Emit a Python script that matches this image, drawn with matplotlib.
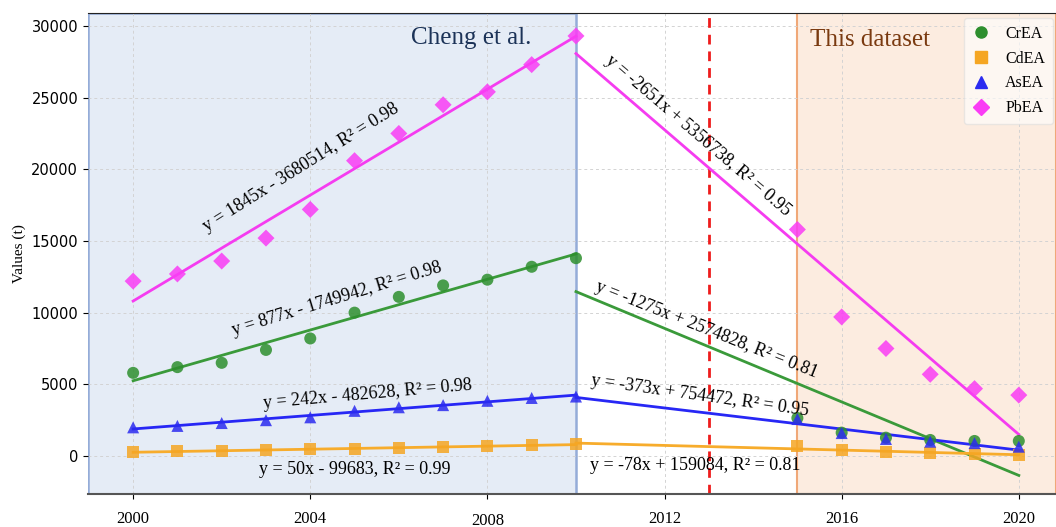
import numpy as np
import matplotlib.pyplot as plt
from matplotlib.lines import Line2D
from matplotlib.transforms import ScaledTranslation

# data
years_a = np.arange(2000, 2011)
years_b = np.array([2015, 2016, 2017, 2018, 2019, 2020])

cr_a = [5800, 6200, 6500, 7400, 8200, 10000, 11100, 11900, 12300, 13200, 13800]
cd_a = [300, 320, 370, 390, 460, 500, 580, 640, 670, 760, 820]
as_a = [2000, 2100, 2300, 2500, 2700, 3150, 3400, 3550, 3850, 4050, 4150]
pb_a = [12200, 12700, 13600, 15200, 17200, 20600, 22500, 24500, 25400, 27300, 29300]

cr_b = [2650, 1630, 1280, 1120, 1050, 1050]
cd_b = [720, 420, 260, 200, 150, 80]
as_b = [2580, 1600, 1190, 1000, 900, 650]
pb_b = [15800, 9700, 7500, 5700, 4700, 4250]

names = ['CrEA', 'CdEA', 'AsEA', 'PbEA']
markers = ['o', 's', '^', 'D']
colors = ['#2e8f2e', '#f5a623', '#2b2bf0', '#fa3cf5']
line_colors = ['#3a9a3a', '#f7ac2c', '#2727f5', '#f53cf0']

eq_a = ['y = 877x - 1749942, R² = 0.98', 'y = 50x - 99683, R² = 0.99',
        'y = 242x - 482628, R² = 0.98', 'y = 1845x - 3680514, R² = 0.98']
eq_b = ['y = -1275x + 2574828, R² = 0.81', 'y = -78x + 159084, R² = 0.81',
        'y = -373x + 754472, R² = 0.95', 'y = -2651x + 5356738, R² = 0.95']

series_a = [cr_a, cd_a, as_a, pb_a]
series_b = [cr_b, cd_b, as_b, pb_b]

fig = plt.figure(figsize=(10.56, 5.27), dpi=100)
ax = fig.add_axes([0.0833, 0.0626, 0.9167, 0.9127])
ax.set_xlim(1998.98, 2020.84)
ax.set_ylim(-2650, 30900)

# shaded periods
ax.axvspan(1998.98, 2010, facecolor='#e5ecf6', edgecolor='#94acd8', linewidth=1.8, zorder=0)
ax.axvspan(2015, 2020.84, facecolor='#fcece0', edgecolor='#f0a878', linewidth=1.5, zorder=0)
ax.axvline(2013, color='#ee1c1c', linestyle=(0, (3.5, 2.5)), linewidth=2, zorder=1)

ax.grid(True, linestyle=(0, (3, 3)), color='#d3d3d3', linewidth=0.7, zorder=0.5)
ax.set_axisbelow(True)

for i in range(4):
    ya = np.array(series_a[i])
    k, b = np.polyfit(years_a, ya, 1)
    xx = np.array([2000, 2010])
    ax.plot(xx, k * xx + b, color=line_colors[i], linewidth=2, zorder=2)

    xb = np.concatenate([[2010], years_b])
    yb = np.concatenate([[ya[-1]], series_b[i]])
    k2, b2 = np.polyfit(xb, yb, 1)
    xx2 = np.array([2010, 2020])
    ax.plot(xx2, k2 * xx2 + b2, color=line_colors[i], linewidth=2, zorder=2)

    ax.scatter(years_a, ya, marker=markers[i], color=colors[i], s=75, alpha=0.85,
               edgecolors='none', zorder=3)
    ax.scatter(years_b, series_b[i], marker=markers[i], color=colors[i], s=75, alpha=0.85,
               edgecolors='none', zorder=3)

# equation labels
serif = 'Liberation Serif'
ax.text(2003.8, 20100, eq_a[3], rotation=32, ha='center', va='center', fontsize=13, family=serif)
ax.text(2004.6, 10950, eq_a[0], rotation=17, ha='center', va='center', fontsize=13, family=serif)
ax.text(2005.3, 4280, eq_a[2], rotation=5, ha='center', va='center', fontsize=13, family=serif)
ax.text(2005.0, -950, eq_a[1], rotation=0, ha='center', va='center', fontsize=13, family=serif)
ax.text(2012.75, 22330, eq_b[3], rotation=-40.5, ha='center', va='center', fontsize=13, family=serif)
ax.text(2012.95, 8800, eq_b[0], rotation=-21.6, ha='center', va='center', fontsize=13, family=serif)
ax.text(2012.8, 4200, eq_b[2], rotation=-8, ha='center', va='center', fontsize=13, family=serif)
ax.text(2012.7, -630, eq_b[1], rotation=0, ha='center', va='center', fontsize=13, family=serif)

ax.text(2007.63, 29170, 'Cheng et al.', ha='center', va='center', fontsize=18,
        color='#1c3358', family=serif)
ax.text(2016.64, 29030, 'This dataset', ha='center', va='center', fontsize=18,
        color='#7a3a10', family=serif)

ax.set_xticks([2000, 2004, 2008, 2012, 2016, 2020])
ax.set_yticks(np.arange(0, 30001, 5000))
for lab in ax.get_xticklabels():
    lab.set_family(serif)
    lab.set_fontsize(12)
ax.tick_params(axis='y', labelsize=10.5)
ax.tick_params(axis='x', pad=9)
ax.set_ylabel('Values (t)', family=serif, fontsize=11)
# the 2008 label sits a little lower in the original
lab08 = ax.get_xticklabels()[2]
lab08.set_transform(lab08.get_transform() + ScaledTranslation(0, -1.5 / 100, fig.dpi_scale_trans))

for s in ['left', 'right']:
    ax.spines[s].set_visible(False)
ax.spines['top'].set_color('#222222')
ax.spines['bottom'].set_color('#555555')
ax.spines['bottom'].set_linewidth(1.5)

handles = [Line2D([], [], marker=markers[i], color=colors[i], linestyle='none',
                  markersize=8, label=names[i]) for i in range(4)]
leg = ax.legend(handles=handles, loc='upper right', prop={'family': serif, 'size': 11.5},
                frameon=True, framealpha=0.6, edgecolor='#dddddd', borderpad=0.5,
                labelspacing=0.55, handlelength=1.2, handletextpad=0.9,
                bbox_to_anchor=(1.002, 1.0), borderaxespad=0.3)

fig.savefig('out.png', dpi=100)
